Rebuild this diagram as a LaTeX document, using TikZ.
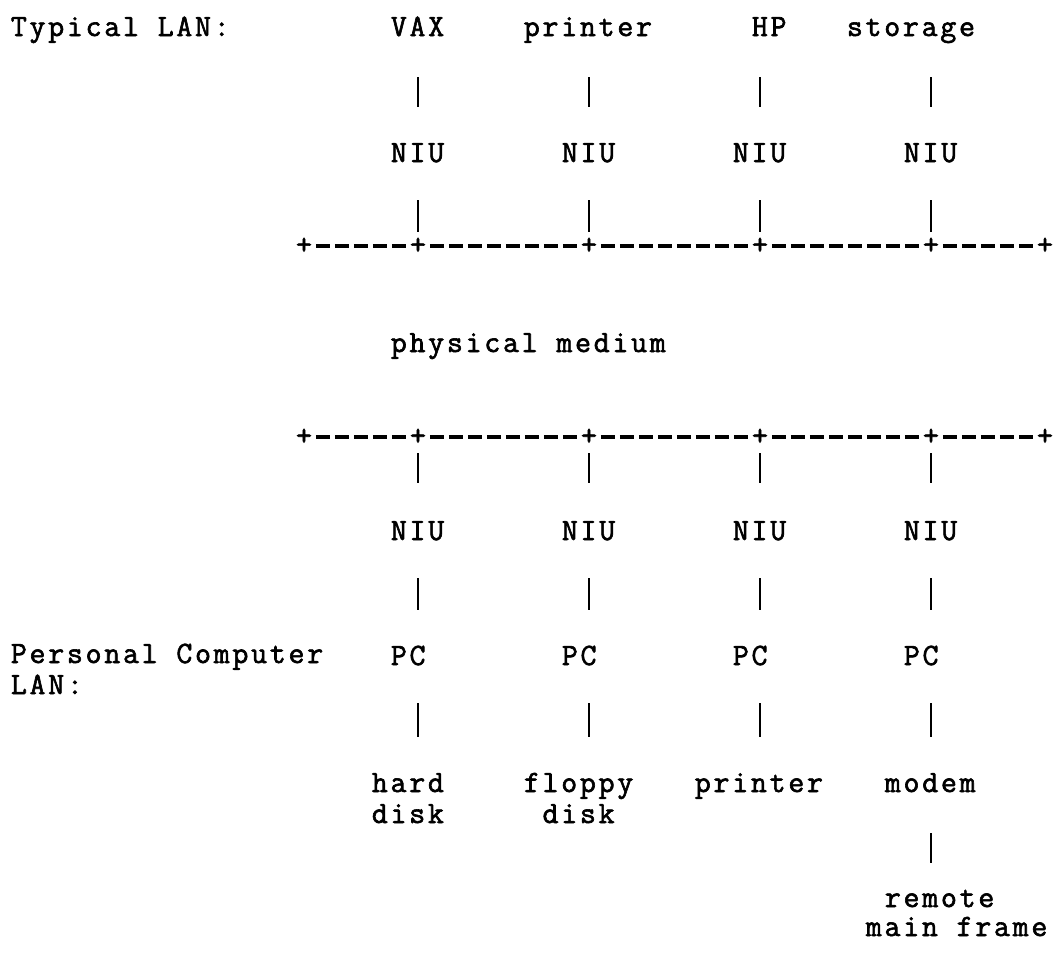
\documentclass[tikz,border=0pt]{standalone}
\usepackage{fontspec}
\newfontfamily\dmono{Latin Modern Mono}[LetterSpace=8.8,FakeBold=2]
\newfontfamily\dmonoplain{Latin Modern Mono}[FakeBold=2]
\tikzset{
  txt/.style={anchor=base west, inner sep=0pt, outer sep=0pt,
    font={\dmono\fontsize{31}{31}\selectfont}, align=left},
  plus/.style={anchor=center, inner sep=0pt, outer sep=0pt,
    font={\dmonoplain\fontsize{31}{31}\selectfont}},
  bar/.style={line width=2.6pt, line cap=butt, black},
  busdash/.style={line width=3.6pt, line cap=butt, black,
    dash pattern=on 14.5pt off 4.5pt}
}
% column c: cell from 9.5+19c to 28.5+19c
\newcommand{\cellat}[4]{\node[txt] (#1) at ({10.86+19*#2},#3) {#4};}
\newcommand{\plusat}[3]{\node[plus] (#1) at ({19+19*#2},#3) {+};}
\begin{document}
\begin{tikzpicture}[x=1pt,y=-1pt]
\useasboundingbox (0,0) rectangle (1054,953);
% bar columns
\coordinate (c21) at ({19+19*21},0);
\coordinate (c30) at ({19+19*30},0);
\coordinate (c39) at ({19+19*39},0);
\coordinate (c48) at ({19+19*48},0);
% top row
\cellat{typlan}{0}{36}{Typical LAN:}
\cellat{vax}{20}{36}{VAX}
\cellat{printerA}{27}{36}{printer}
\cellat{hp}{39}{36}{HP}
\cellat{storage}{44}{36}{storage}
% NIU upper
\cellat{niu1}{20}{162}{NIU}
\cellat{niu2}{29}{162}{NIU}
\cellat{niu3}{38}{162}{NIU}
\cellat{niu4}{47}{162}{NIU}
% upper bus
\plusat{pa0}{15}{246}
\plusat{pa1}{21}{246}
\plusat{pa2}{30}{246}
\plusat{pa3}{39}{246}
\plusat{pa4}{48}{246}
\plusat{pa5}{54}{246}
\foreach \a/\b in {pa0/pa1,pa1/pa2,pa2/pa3,pa3/pa4,pa4/pa5}
  \draw[busdash] ([xshift=11.75pt]\a.center) -- ([xshift=-11.75pt]\b.center);
\cellat{medium}{20}{352}{physical medium}
% lower bus
\plusat{pb0}{15}{437}
\plusat{pb1}{21}{437}
\plusat{pb2}{30}{437}
\plusat{pb3}{39}{437}
\plusat{pb4}{48}{437}
\plusat{pb5}{54}{437}
\foreach \a/\b in {pb0/pb1,pb1/pb2,pb2/pb3,pb3/pb4,pb4/pb5}
  \draw[busdash] ([xshift=11.75pt]\a.center) -- ([xshift=-11.75pt]\b.center);
% NIU lower
\cellat{niu5}{20}{540}{NIU}
\cellat{niu6}{29}{540}{NIU}
\cellat{niu7}{38}{540}{NIU}
\cellat{niu8}{47}{540}{NIU}
% PC row
\cellat{pclan}{0}{694}{Personal Computer\\LAN:}
\cellat{pc1}{20}{665}{PC}
\cellat{pc2}{29}{665}{PC}
\cellat{pc3}{38}{665}{PC}
\cellat{pc4}{47}{665}{PC}
% devices
\cellat{hard}{19}{823}{hard\\disk}
\cellat{floppy}{27}{823}{floppy\\\ disk}
\cellat{printerB}{36}{792}{printer}
\cellat{modem}{46}{792}{modem}
\cellat{remote}{46}{907}{remote}
\cellat{mainframe}{45}{936}{main frame}
% vertical connectors
\draw[bar] (vax.base -| c21) ++(0,41) -- ++(0,30);
\draw[bar] (printerA.base -| c30) ++(0,41) -- ++(0,30);
\draw[bar] (hp.base -| c39) ++(0,41) -- ++(0,30);
\draw[bar] (storage.base -| c48) ++(0,41) -- ++(0,30);
\draw[bar] (niu1.base -| c21) ++(0,38) -- ++(0,32);
\draw[bar] (niu2.base -| c30) ++(0,38) -- ++(0,32);
\draw[bar] (niu3.base -| c39) ++(0,38) -- ++(0,32);
\draw[bar] (niu4.base -| c48) ++(0,38) -- ++(0,32);
\draw[bar] (pb1.center) ++(0,16) -- ++(0,30);
\draw[bar] (pb2.center) ++(0,16) -- ++(0,30);
\draw[bar] (pb3.center) ++(0,16) -- ++(0,30);
\draw[bar] (pb4.center) ++(0,16) -- ++(0,30);
\draw[bar] (niu5.base -| c21) ++(0,38) -- ++(0,32);
\draw[bar] (niu6.base -| c30) ++(0,38) -- ++(0,32);
\draw[bar] (niu7.base -| c39) ++(0,38) -- ++(0,32);
\draw[bar] (niu8.base -| c48) ++(0,38) -- ++(0,32);
\draw[bar] (pc1.base -| c21) ++(0,38) -- ++(0,34);
\draw[bar] (pc2.base -| c30) ++(0,38) -- ++(0,34);
\draw[bar] (pc3.base -| c39) ++(0,38) -- ++(0,34);
\draw[bar] (pc4.base -| c48) ++(0,38) -- ++(0,34);
\draw[bar] (modem.base -| c48) ++(0,41) -- ++(0,30);
\end{tikzpicture}
\end{document}
